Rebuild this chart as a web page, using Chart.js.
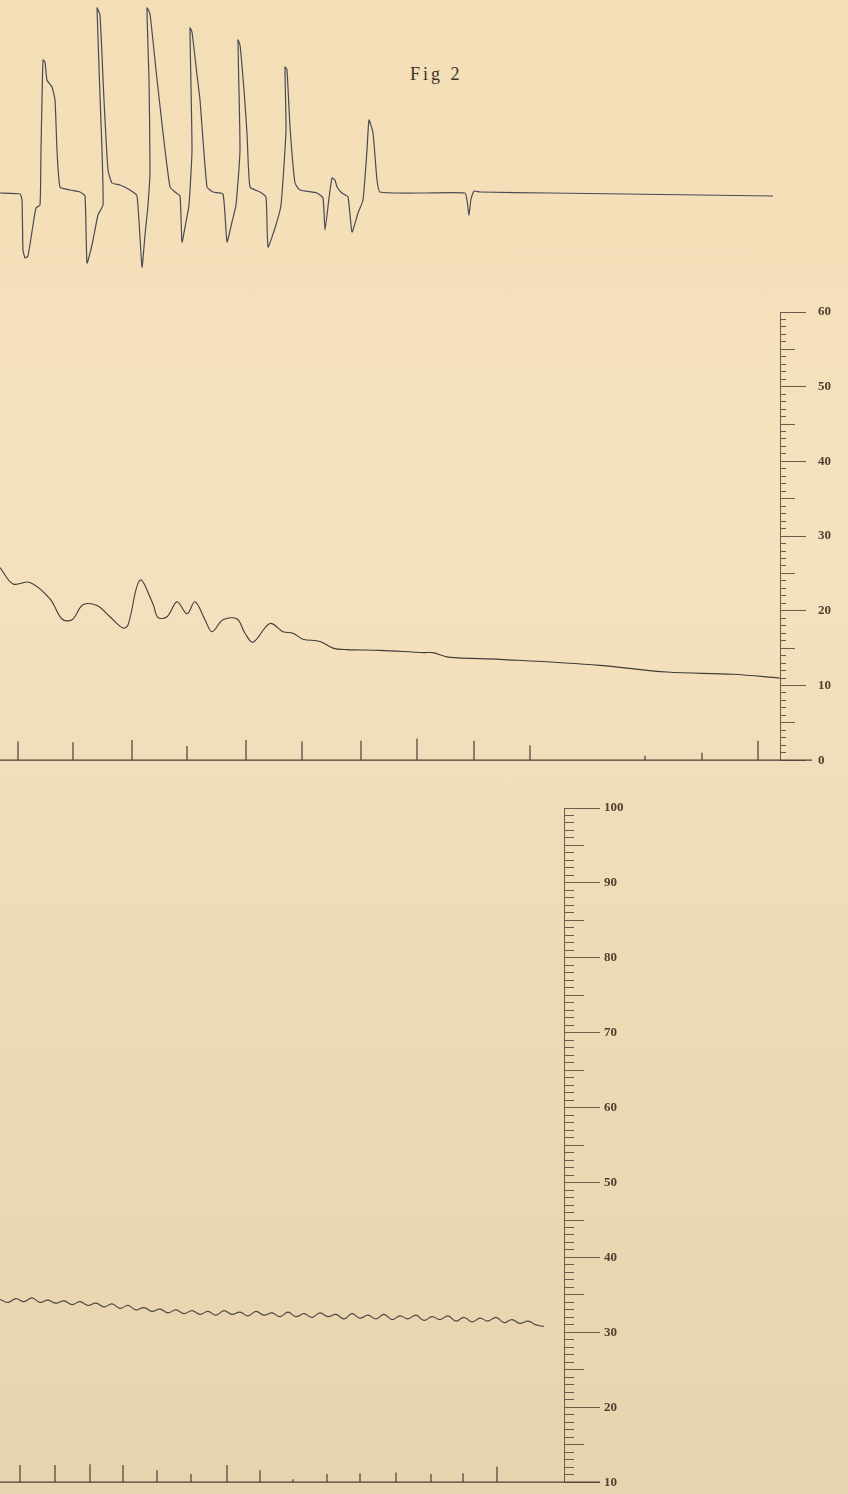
<!DOCTYPE html>
<html lang="fr">
<head>
<meta charset="UTF-8" />
<title>Fig 2</title>
<script src="https://cdn.jsdelivr.net/npm/chart.js"></script>
<style>
  html, body { margin: 0; padding: 0; }
  body {
    width: 848px; height: 1494px; position: relative; overflow: hidden;
    background: linear-gradient(180deg, #f4deb6 0%, #f5e1be 35%, #eedbb6 65%, #e6d4af 100%);
  }
  .panel { position: absolute; left: 0; width: 848px; }
  #title {
    position: absolute; left: 410px; top: 64px;
    font-family: "Liberation Serif", serif; font-size: 18px; letter-spacing: 3px; color: #3e3426;
  }
</style>
</head>
<body>
  <div id="title">Fig 2</div>
  <div class="panel" style="top:0;height:280px"><canvas id="topChart"></canvas></div>
  <div class="panel" style="top:280px;height:500px"><canvas id="midChart"></canvas></div>
  <div class="panel" style="top:780px;height:714px"><canvas id="botChart"></canvas></div>

<script>
// top trace: deflection from the rest line
const topX = [0, 20, 22, 23, 25, 28, 33, 36, 40, 41, 43, 45, 47, 52, 55, 57, 60, 70, 80, 85,
  87, 92, 98, 103, 102, 97, 100, 104, 108, 112, 120, 130, 137,
  142, 145, 148, 150, 149, 147, 150, 156, 163, 170, 175, 180,
  182, 186, 189, 192, 190, 192, 197, 200, 207, 213, 223,
  227, 232, 236, 240, 238, 240, 244, 247, 250, 260, 266,
  268, 275, 281, 286, 285, 287, 290, 295, 300, 317, 323, 325, 329, 332, 335, 337, 342, 348,
  352, 358, 363, 367, 369, 373, 377, 380, 424,
  465, 467, 469, 471, 474, 480, 550, 700, 773];
const topY = [0, -1, -7, -57, -65, -63, -32, -15, -12, 43, 133, 131, 113, 106, 93, 43, 6, 3, 1, -3,
  -70, -52, -22, -12, 43, 185, 178, 93, 23, 10, 8, 3, -3,
  -74, -42, -12, 23, 113, 185, 179, 123, 60, 6, 1, -3,
  -49, -29, -12, 43, 165, 161, 118, 93, 6, 1, -1,
  -49, -29, -12, 43, 153, 148, 103, 60, 6, 1, -4,
  -54, -35, -12, 63, 126, 123, 66, 10, 3, 0, -5, -37, -5, 15, 13, 6, 0, -4,
  -39, -20, -7, 43, 73, 60, 13, 1, 0,
  0, -7, -22, -6, 2, 1, 0, -2, -3];

// middle trace, scale 0-60
const midX = [0, 13, 30, 50, 62, 72, 83, 97, 110, 123, 128, 140, 153, 158, 167, 177, 187, 195, 205, 212,
  223, 237, 245, 253, 270, 283, 293, 303, 320, 333, 347, 380, 424, 433, 448, 500, 600, 667, 733, 780];
const midY = [25.8, 23.6, 23.8, 21.6, 18.9, 18.8, 20.8, 20.7, 19.2, 17.7, 18.1, 24.1, 20.9, 19.1, 19.2, 21.2, 19.6, 21.2, 18.8, 17.2,
  18.8, 18.9, 17.0, 15.8, 18.3, 17.2, 17.0, 16.2, 15.9, 15.0, 14.8, 14.7, 14.4, 14.4, 13.8, 13.5, 12.7, 11.8, 11.5, 11.0];
const midMarks = [18, 73, 132, 187, 246, 302, 361, 417, 474, 530, 645, 702, 758];
const midMarkH = [2.5, 2.4, 2.7, 1.9, 2.7, 2.5, 2.6, 2.9, 2.6, 2.0, 0.6, 1.0, 2.6];
const midLineEnd = 812;

// bottom trace, scale 10-100, one reading every 8 units
const botStep = 8;
const botY = [34.4, 34.0, 34.5, 34.1, 34.6, 34.0, 34.3, 33.9, 34.2, 33.7,
  34.1, 33.6, 33.9, 33.4, 33.8, 33.2, 33.6, 33.0, 33.3, 32.8,
  33.1, 32.6, 33.0, 32.5, 32.9, 32.4, 32.8, 32.3, 32.9, 32.4,
  32.7, 32.2, 32.8, 32.3, 32.6, 32.1, 32.7, 32.1, 32.5, 32.0,
  32.6, 32.1, 32.4, 31.8, 32.5, 31.9, 32.3, 31.8, 32.4, 31.7,
  32.2, 31.8, 32.3, 31.6, 32.1, 31.7, 32.2, 31.5, 32.0, 31.4,
  31.9, 31.5, 32.0, 31.3, 31.7, 31.2, 31.5, 31.0, 30.8];
const botMarks = [20, 55, 90, 123, 157, 191, 227, 260, 293, 327, 360, 396, 431, 463, 497];
const botMarkH = [2.3, 2.3, 2.4, 2.3, 1.6, 1.1, 2.3, 1.6, 0.4, 1.1, 1.2, 1.3, 1.1, 1.2, 2.1];
const botLineEnd = 600;

const midLabels = [0, 10, 20, 30, 40, 50, 60];
const botLabels = [10, 20, 30, 40, 50, 60, 70, 80, 90, 100];

const ink = '#6a5c48';
const labelInk = '#4d4030';
const serif = { family: '"Liberation Serif", serif', size: 13, weight: 'bold' };

function pairs(xs, ys) {
  return xs.map((x, i) => ({ x: x, y: ys[i] }));
}

// time signal line: rest level with a short stroke at each mark
function timeLine(marks, heights, base, end) {
  const pts = [{ x: 0, y: base }];
  marks.forEach((t, i) => {
    pts.push({ x: t, y: base }, { x: t, y: base + heights[i] }, { x: t, y: base });
  });
  pts.push({ x: end, y: base });
  return pts;
}

function ruler(min, max, step, len, weight) {
  return {
    type: 'linear', position: 'right', min: min, max: max, weight: weight,
    afterFit: s => { s.width = 0; },
    border: { display: false },
    grid: { drawOnChartArea: false, drawTicks: true, tickLength: len, color: ink, lineWidth: 1 },
    ticks: { display: false, stepSize: step, autoSkip: false }
  };
}

function labelAxis(min, max, labels, len, pad, width) {
  return {
    type: 'linear', position: 'right', min: min, max: max, weight: 1,
    afterFit: s => { s.width = width; },
    afterBuildTicks: s => { s.ticks = labels.map(v => ({ value: v })); },
    border: { display: true, color: ink, width: 1 },
    grid: { drawOnChartArea: false, tickLength: len, color: ink, lineWidth: 1 },
    ticks: { autoSkip: false, padding: pad, color: labelInk, font: serif }
  };
}

const common = {
  responsive: true,
  maintainAspectRatio: false,
  animation: false,
  plugins: { legend: { display: false }, tooltip: { enabled: false }, title: { display: false } },
  elements: { point: { radius: 0 } }
};

new Chart(document.getElementById('topChart'), {
  type: 'line',
  data: {
    datasets: [{
      data: pairs(topX, topY), borderColor: '#4a4a56', borderWidth: 1.2, tension: 0.15, clip: false
    }]
  },
  options: Object.assign({}, common, {
    layout: { padding: 0 },
    scales: {
      x: { type: 'linear', min: 0, max: 848, display: false },
      y: { type: 'linear', min: -87, max: 193, display: false }
    }
  })
});

new Chart(document.getElementById('midChart'), {
  type: 'line',
  data: {
    datasets: [
      { data: pairs(midX, midY), borderColor: '#3f3c3a', borderWidth: 1.1, tension: 0.35, clip: false },
      { data: timeLine(midMarks, midMarkH, 0, midLineEnd), borderColor: '#4a4036', borderWidth: 1.2, tension: 0, clip: false }
    ]
  },
  options: Object.assign({}, common, {
    layout: { padding: { top: 32, bottom: 15, left: 0, right: 0 } },
    scales: {
      x: { type: 'linear', min: 0, max: 780, display: false },
      y: labelAxis(0, 60, midLabels, 26, 12, 68),
      y5: ruler(0, 60, 5, 15, 0),
      y1: ruler(0, 60, 1, 6, -1)
    }
  })
});

new Chart(document.getElementById('botChart'), {
  type: 'line',
  data: {
    datasets: [
      { data: botY.map((v, i) => ({ x: i * botStep, y: v })), borderColor: '#4d4846', borderWidth: 1.1, tension: 0.4, clip: false },
      { data: timeLine(botMarks, botMarkH, 10, botLineEnd), borderColor: '#4a4036', borderWidth: 1.2, tension: 0, clip: false }
    ]
  },
  options: Object.assign({}, common, {
    layout: { padding: { top: 28, bottom: 8, left: 0, right: 0 } },
    scales: {
      x: { type: 'linear', min: 0, max: 564, display: false },
      y: labelAxis(10, 100, botLabels, 36, 4, 284),
      y5: ruler(10, 100, 5, 20, 0),
      y1: ruler(10, 100, 1, 10, -1)
    }
  })
});
</script>
</body>
</html>
